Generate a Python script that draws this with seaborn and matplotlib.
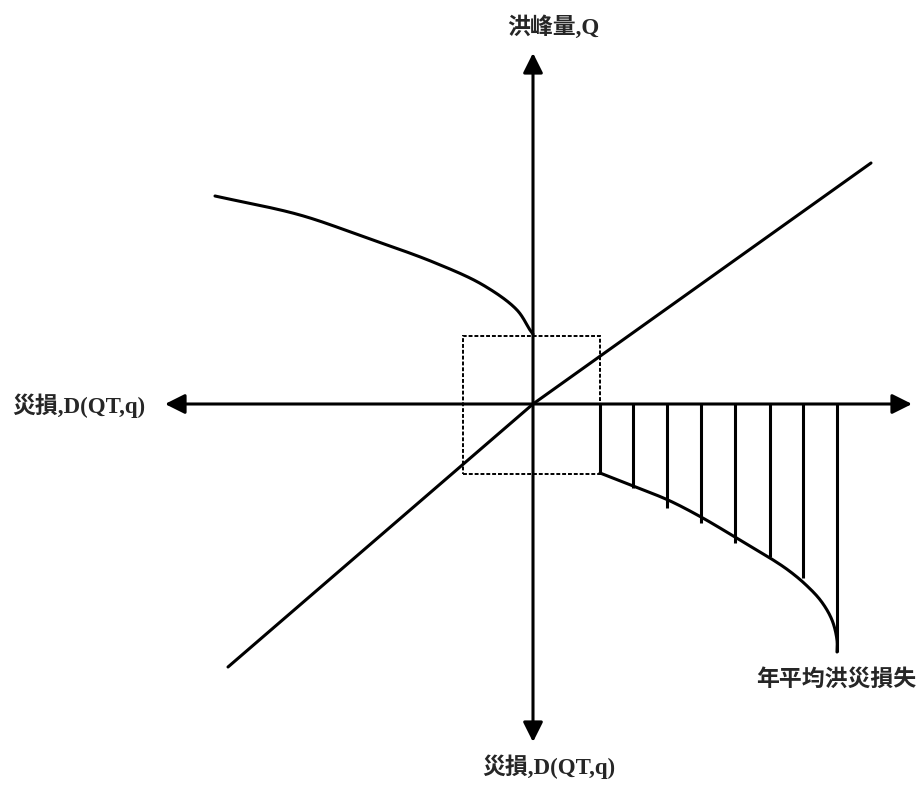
import numpy as np
import pandas as pd
import seaborn as sns
import matplotlib
matplotlib.use("Agg")
import matplotlib.pyplot as plt
from matplotlib.patches import Rectangle

sns.set_theme(style="white")
plt.rcParams["font.family"] = ["Liberation Serif", "Noto Sans CJK TC", "DejaVu Sans"]

# Axis labels
label_q = "洪峰量,Q"
label_d = "災損,D(QT,q)"
label_ead = "年平均洪災損失"

# Flood peak -> damage curve (upper-left quadrant)
damage_curve_x = [-318, -233, -166, -100, -50, -16, -3, 0]
damage_curve_y = [208, 189, 166, 142, 119, 94, 74, 70]

# 45-degree transfer line
transfer_x = [-305, 0, 338]
transfer_y = [-263, 0, 241]

# Damage-frequency curve (lower-right quadrant)
freq_curve_x = [67, 100, 135, 168, 202, 237, 255, 272, 288, 299, 304, 304]
freq_curve_y = [-69, -82, -96, -113, -133, -154, -166, -180, -197, -216, -236, -248]

# Hatching strips under the damage-frequency curve
hatch_x = [67, 100, 134, 168, 202, 237, 270, 304]
hatch_depth = [69, 84, 104, 119, 139, 153, 174, 248]

# Threshold box around the origin
box_left, box_right = -70, 67
box_bottom, box_top = -70, 68

# Axis extents
x_axis = (-368, 379)
y_axis = (-338, 351)


def smooth(xs, ys, n=25, alpha=0.5):
    """Centripetal Catmull-Rom spline through the traced points."""
    p = np.column_stack([xs, ys]).astype(float)
    p = np.vstack([2 * p[0] - p[1], p, 2 * p[-1] - p[-2]])
    out = []
    for i in range(1, len(p) - 2):
        P0, P1, P2, P3 = p[i - 1], p[i], p[i + 1], p[i + 2]
        t0 = 0.0
        t1 = t0 + np.linalg.norm(P1 - P0) ** alpha
        t2 = t1 + np.linalg.norm(P2 - P1) ** alpha
        t3 = t2 + np.linalg.norm(P3 - P2) ** alpha
        t = np.linspace(t1, t2, n, endpoint=False)[:, None]
        A1 = (t1 - t) / (t1 - t0) * P0 + (t - t0) / (t1 - t0) * P1
        A2 = (t2 - t) / (t2 - t1) * P1 + (t - t1) / (t2 - t1) * P2
        A3 = (t3 - t) / (t3 - t2) * P2 + (t - t2) / (t3 - t2) * P3
        B1 = (t2 - t) / (t2 - t0) * A1 + (t - t0) / (t2 - t0) * A2
        B2 = (t3 - t) / (t3 - t1) * A2 + (t - t1) / (t3 - t1) * A3
        C = (t2 - t) / (t2 - t1) * B1 + (t - t1) / (t2 - t1) * B2
        out.append(C)
    out.append(p[-2][None, :])
    out = np.vstack(out)
    return pd.DataFrame({"x": out[:, 0], "y": out[:, 1]})


fig = plt.figure(figsize=(9.24, 7.85), dpi=100)
ax = fig.add_axes([0, 0, 1, 1])
ax.set_xlim(-533, 391)
ax.set_ylim(-381, 404)
ax.axis("off")

lw = 2.2
head = dict(arrowstyle="-|>", mutation_scale=30, lw=lw, color="black",
            shrinkA=0, shrinkB=0)

# Axes with arrowheads on both ends
for tip in (x_axis[0], x_axis[1]):
    ax.annotate("", xy=(tip, 0), xytext=(0, 0), arrowprops=head)
for tip in (y_axis[0], y_axis[1]):
    ax.annotate("", xy=(0, tip), xytext=(0, 0), arrowprops=head)

# Curves
sns.lineplot(data=smooth(damage_curve_x, damage_curve_y), x="x", y="y",
             sort=False, estimator=None, color="black", lw=lw, ax=ax)
sns.lineplot(data=smooth(freq_curve_x, freq_curve_y), x="x", y="y",
             sort=False, estimator=None, color="black", lw=lw, ax=ax)
sns.lineplot(data=pd.DataFrame({"x": transfer_x, "y": transfer_y}), x="x", y="y",
             sort=False, estimator=None, color="black", lw=lw, ax=ax)

ax.vlines(hatch_x, [-d for d in hatch_depth], 0, color="black", lw=lw)

ax.add_patch(Rectangle((box_left, box_bottom), box_right - box_left,
                       box_top - box_bottom, fill=False, ec="black",
                       lw=1.4, ls=(0, (2, 1))))

fs = 16.5
ax.text(20, 377, label_q, ha="center", va="center", fontsize=fs, weight="bold")
ax.text(-521, -2, label_d, ha="left", va="center", fontsize=fs, weight="bold")
ax.text(16, -363, label_d, ha="center", va="center", fontsize=fs, weight="bold")
ax.text(303, -276, label_ead, ha="center", va="center", fontsize=fs, weight="bold")

fig.savefig("out.png", dpi=100, facecolor="white")
